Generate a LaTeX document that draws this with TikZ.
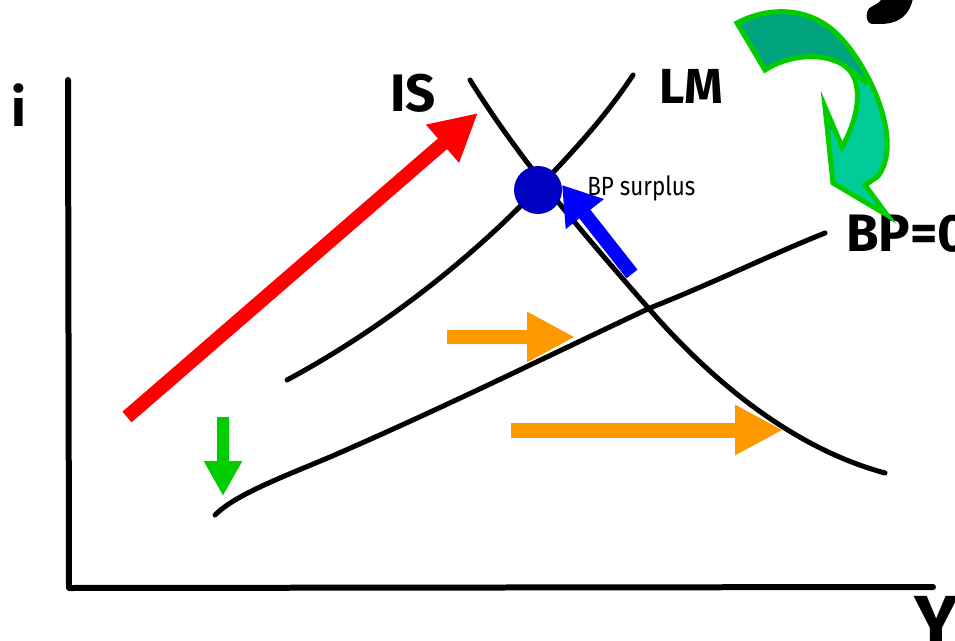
\documentclass[tikz,border=0pt]{standalone}
\usepackage{fontspec}
\setmainfont{Fira Sans}
\usetikzlibrary{arrows.meta}
\definecolor{redA}{HTML}{FF0000}
\definecolor{blueA}{HTML}{0000FF}
\definecolor{dotblue}{HTML}{0000C0}
\definecolor{orangeA}{HTML}{FF9900}
\definecolor{greenA}{HTML}{00CC00}
\definecolor{tealdark}{HTML}{00A37E}
\definecolor{teallight}{HTML}{00CC99}
\begin{document}
\begin{tikzpicture}[x=0.02cm,y=-0.02cm,
  curve/.style={line width=0.1cm, line cap=round, line join=round, black},
  axisline/.style={line width=0.12cm, line cap=round, line join=round, black},
  biglab/.style={inner sep=0, font=\fontsize{30}{30}\selectfont\bfseries},
  fatarrow/.style={line width=0.28cm},
]
\useasboundingbox (0,0) rectangle (955,641);
\clip (0,0) rectangle (955,641);

% axes
\coordinate (ytop) at (68,80);
\coordinate (orig) at (69,588);
\coordinate (xend) at (933,587);
\draw[axisline] (ytop) -- (orig) -- (xend);
\node[biglab, anchor=base west] (ilab) at (11,127) {i};
\node[inner sep=0, anchor=north west, font=\fontsize{42}{42}\selectfont\bfseries] (Ylab) at (914,596) {Y};

% orange arrows (behind curves)
\coordinate (o1s) at (447,337); \coordinate (o1e) at (575,337);
\coordinate (o2s) at (511,430); \coordinate (o2e) at (783,430);
\draw[orangeA, line width=0.3cm, -{Triangle[length=0.96cm,width=0.94cm]}] (o1s) -- (o1e);
\draw[orangeA, line width=0.3cm, -{Triangle[length=0.96cm,width=0.94cm]}] (o2s) -- (o2e);

% green down arrow
\coordinate (g1s) at (223,417); \coordinate (g1e) at (223,496);
\draw[greenA, line width=0.24cm, -{Triangle[length=0.7cm,width=0.72cm]}] (g1s) -- (g1e);

% red arrow
\coordinate (rs) at (127,417); \coordinate (re) at (478,113);
\draw[redA, fatarrow, -{Triangle[length=0.94cm,width=0.94cm]}] (rs) -- (re);

% curves
\draw[curve] (470,80) .. controls (520,160) and (580,230) .. (650,310)
  .. controls (720,390) and (800,450) .. (885,473);
\draw[curve] (287,380) .. controls (380,330) and (470,260) .. (538,188)
  .. controls (580,145) and (610,110) .. (633,75);
\draw[curve] (215,515) .. controls (235,495) and (280,478) .. (330,457)
  .. controls (450,405) and (560,350) .. (650,308)
  .. controls (720,280) and (770,255) .. (825,233);

% labels
\node[biglab, anchor=base west] (ISlab) at (390,112) {IS};
\node[biglab, anchor=base west, font=\fontsize{28}{28}\selectfont\bfseries] (LMlab) at (659,104) {LM};
\node[biglab, anchor=base west] (BPlab) at (846,252) {BP=0};
\node[inner sep=0, anchor=base west, font=\fontsize{15}{15}\selectfont\addfontfeatures{FakeStretch=0.85}] (surplus) at (587,196) {BP surplus};

% equilibrium dot and blue arrow
\node[circle, fill=dotblue, minimum size=0.96cm, inner sep=0] (eq) at (538,190) {};
\coordinate (bs) at (632,274); \coordinate (be) at (562,185);
\draw[blueA, fatarrow, -{Triangle[length=0.74cm,width=0.92cm]}] (bs) -- (be);

% green curved arrow
\def\bandpath{(737,23) .. controls (765,8) and (805,5) .. (835,32)
  .. controls (860,55) and (890,110) .. (887,150)
  .. controls (886,162) and (882,172) .. (877,177)
  -- (865,185) -- (887,215) -- (833,183) -- (825,107) -- (842,147)
  .. controls (862,112) and (862,78) .. (845,66)
  .. controls (825,52) and (790,54) .. (765,70) -- cycle}
\fill[teallight] \bandpath;
\begin{scope}
  \clip (700,-10) -- (960,-10) -- (960,156) -- (845,66) -- (845,130) -- (700,130) -- cycle;
  \fill[tealdark] \bandpath;
\end{scope}
\draw[greenA, line width=0.1cm, line join=miter] \bandpath;
\draw[greenA, line width=0.1cm] (845,66) -- (868,84);

% partial black glyph at top right
\fill[black] (882,-2) -- (913,-2) .. controls (910,14) and (900,24) .. (880,24)
  -- (872,24) .. controls (865,23) and (865,10) .. (871,7)
  .. controls (876,4) and (880,3) .. (882,-2) -- cycle;
\end{tikzpicture}
\end{document}
